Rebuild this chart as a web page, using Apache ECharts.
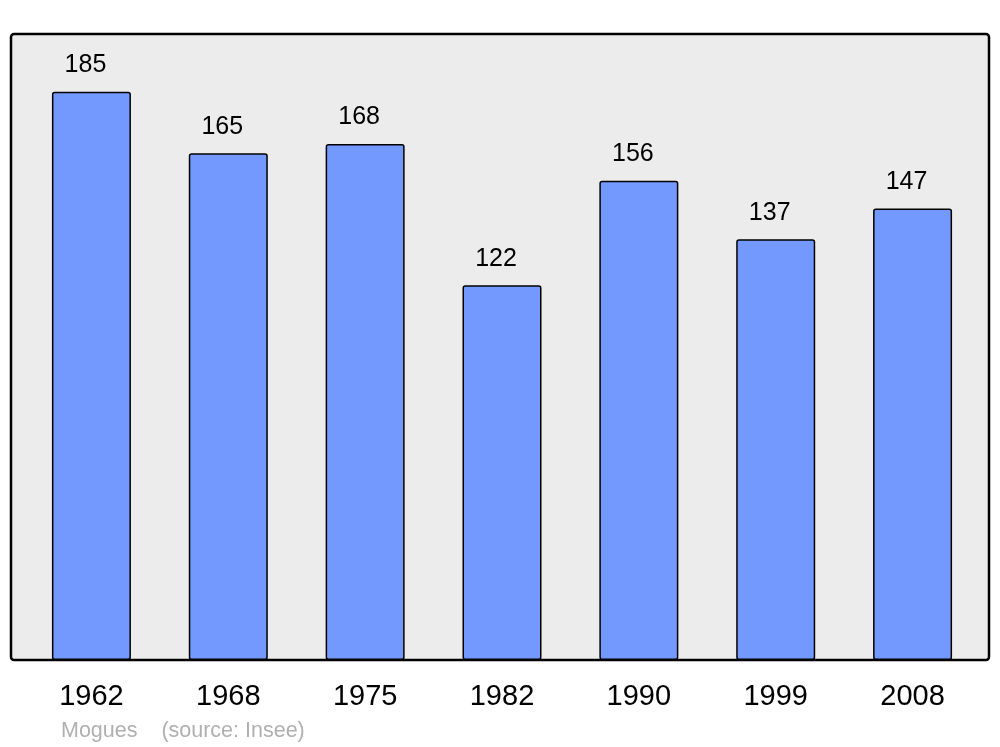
<!DOCTYPE html>
<html>
<head>
<meta charset="utf-8">
<script src="https://cdn.jsdelivr.net/npm/echarts@6/dist/echarts.min.js"></script>
<style>
  html, body { margin: 0; padding: 0; background: #ffffff; }
  #chart { width: 1000px; height: 747px; }
</style>
</head>
<body>
<div id="chart"></div>
<script>
// population par recensement
const years = ['1962', '1968', '1975', '1982', '1990', '1999', '2008']
const population = [185, 165, 168, 122, 156, 137, 147]
const footerText = 'Mogues    (source: Insee)'

const chart = echarts.init(document.getElementById('chart'))

const option = {
  animation: false,
  backgroundColor: '#ffffff',
  graphic: [
    {
      type: 'rect',
      z: -10,
      shape: { x: 11, y: 34, width: 978, height: 626, r: 3 },
      style: { fill: '#ececec', stroke: '#000000', lineWidth: 2.5 }
    },
    {
      type: 'text',
      left: 61,
      top: 720,
      style: {
        text: footerText,
        fill: '#b0b0b0',
        fontSize: 21.5,
        fontFamily: 'Liberation Sans, Arial, sans-serif'
      }
    }
  ],
  grid: {
    left: 23,
    right: 19,
    top: 34,
    bottom: 87
  },
  xAxis: {
    type: 'category',
    data: years,
    axisLine: { show: false },
    axisTick: { show: false },
    axisLabel: {
      color: '#000000',
      fontSize: 29,
      fontFamily: 'Liberation Sans, Arial, sans-serif',
      margin: 22
    }
  },
  yAxis: {
    type: 'value',
    min: 0,
    max: 203.8,
    show: false,
    splitLine: { show: false }
  },
  series: [
    {
      type: 'bar',
      data: population,
      barWidth: 79,
      itemStyle: {
        color: '#7399ff',
        borderColor: '#000000',
        borderWidth: 1.5,
        borderRadius: 2
      },
      label: {
        show: true,
        position: 'top',
        distance: 14,
        offset: [-6, 0],
        color: '#000000',
        fontSize: 25,
        fontFamily: 'Liberation Sans, Arial, sans-serif'
      }
    }
  ]
}

chart.setOption(option)
</script>
</body>
</html>
